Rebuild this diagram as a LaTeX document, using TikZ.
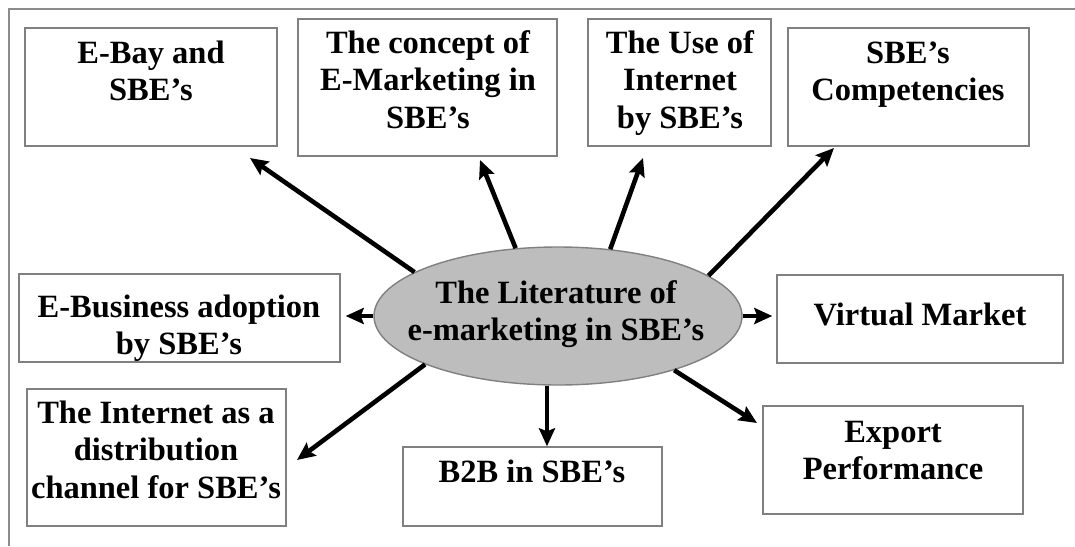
\documentclass[tikz,border=0pt]{standalone}
\usepackage{fontspec}
\setmainfont{Liberation Serif}
\usetikzlibrary{shapes.geometric,arrows.meta}
\newcommand{\stack}[1]{\begin{tabular}[t]{@{}c@{}}#1\end{tabular}}
\begin{document}
\begin{tikzpicture}[x=1pt,y=-1pt,
  box/.style={draw=black!50,line width=1.4pt,rectangle,inner sep=0pt},
  lbl/.style={anchor=base,inner sep=0pt,font=\fontsize{32.5}{37.5}\selectfont\bfseries},
  hub/.style={ellipse,draw=black!50,fill=black!26,line width=1.4pt,inner sep=0pt,
              minimum width=368pt,minimum height=138pt},
  arr/.style={line width=4.6pt,-{Stealth[length=18pt,width=16pt,inset=3pt]}}]
\useasboundingbox (0,0) rectangle (1075,546);
% frame edges
\draw[black!45,line width=1.4pt] (9,546) -- (9,9) -- (1075,9);

% central topic
\node[hub] (lit) at (558,316) {};
\node[lbl] (litT) at (556,303) {\stack{The Literature of\\e-marketing in SBE’s}};

% surrounding topics
\node[box,minimum width=252pt,minimum height=118pt] (ebay) at (151,87) {};
\node[lbl] (ebayT) at (151,63) {\stack{E-Bay and\\SBE’s}};

\node[box,minimum width=259pt,minimum height=137pt] (concept) at (427.5,87.5) {};
\node[lbl] (conceptT) at (428,53) {\stack{The concept of\\E-Marketing in\\SBE’s}};

\node[box,minimum width=183pt,minimum height=127pt] (use) at (679.5,82.5) {};
\node[lbl] (useT) at (680,53) {\stack{The Use of\\Internet\\by SBE’s}};

\node[box,minimum width=241pt,minimum height=118pt] (comp) at (908.5,87) {};
\node[lbl] (compT) at (908,63) {\stack{SBE’s\\Competencies}};

\node[box,minimum width=321pt,minimum height=88pt] (ebiz) at (179.5,318) {};
\node[lbl] (ebizT) at (179,317) {\stack{E-Business adoption\\by SBE’s}};

\node[box,minimum width=286pt,minimum height=88pt] (virt) at (920,319) {};
\node[lbl] (virtT) at (920,325) {Virtual Market};

\node[box,minimum width=259pt,minimum height=137pt] (idist) at (156.5,457.5) {};
\node[lbl] (idistT) at (156,423) {\stack{The Internet as a\\distribution\\channel for SBE’s}};

\node[box,minimum width=259pt,minimum height=79pt] (b2b) at (532.5,486.5) {};
\node[lbl] (b2bT) at (532,482) {B2B in SBE’s};

\node[box,minimum width=260pt,minimum height=108pt] (export) at (893,460) {};
\node[lbl] (exportT) at (893,442) {\stack{Export\\Performance}};

% arrow tips
\coordinate (tEbay) at (250,158);
\coordinate (tConcept) at (480,160);
\coordinate (tUse) at (643,158);
\coordinate (tComp) at (834,148);
\coordinate (tIdist) at (297,460);
\coordinate (tExport) at (757,423);

% connectors
\draw[arr] (lit.163) -- (tEbay);
\draw[arr] (lit.122) -- (tConcept);
\draw[arr] (lit.52) -- (tUse);
\draw[arr] (lit.15) -- (tComp);
\draw[arr,shorten >=5pt] (lit.west) -- (lit.west -| ebiz.east);
\draw[arr,shorten >=4pt] (lit.east) -- (lit.east -| virt.west);
\draw[arr] (lit.200) -- (tIdist);
\draw[arr] (lit.261) -- (lit.261 |- b2b.north);
\draw[arr] (lit.335) -- (tExport);
\end{tikzpicture}
\end{document}
